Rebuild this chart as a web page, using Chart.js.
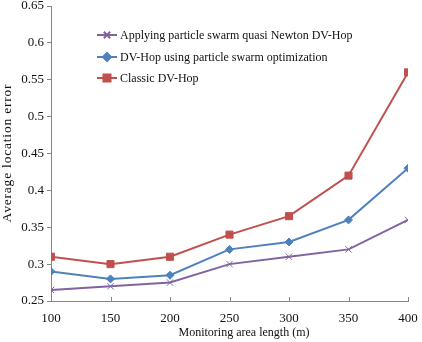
<!DOCTYPE html>
<html>
<head>
<meta charset="utf-8">
<script src="https://cdn.jsdelivr.net/npm/chart.js@4"></script>
<style>
  html, body { margin: 0; padding: 0; background: #fff; }
  #wrap { width: 422px; height: 342px; }
</style>
</head>
<body>
<div id="wrap"><canvas id="chart"></canvas></div>
<script>
const lengths = [100, 150, 200, 250, 300, 350, 400]
const quasiNewton = [0.265, 0.27, 0.275, 0.30, 0.31, 0.32, 0.36]
const pso = [0.29, 0.28, 0.285, 0.32, 0.33, 0.36, 0.43]
const classic = [0.31, 0.30, 0.31, 0.34, 0.365, 0.42, 0.56]
const seriesNames = [
  "Applying particle swarm quasi Newton DV-Hop",
  "DV-Hop using particle swarm optimization",
  "Classic DV-Hop",
]
const xTitle = "Monitoring area length (m)"
const yTitle = "Average location error"

const serif = "'Liberation Serif', 'Times New Roman', serif"
const axisColor = "#868686"
const textColor = "#111"

const toPoints = (values) => values.map((v, i) => ({ x: lengths[i], y: v }))

// legend inside the plot: short line with the marker in the middle
const insideLegend = {
  id: "insideLegend",
  afterDraw(chart) {
    const ctx = chart.ctx
    const x0 = 97
    const rows = [35, 57, 78]
    ctx.save()
    chart.data.datasets.forEach((ds, i) => {
      const y = rows[i]
      ctx.strokeStyle = ds.borderColor
      ctx.lineWidth = 2
      ctx.beginPath()
      ctx.moveTo(x0, y)
      ctx.lineTo(x0 + 20, y)
      ctx.stroke()
      ctx.fillStyle = ds.backgroundColor
      Chart.helpers.drawPoint(ctx, {
        pointStyle: ds.pointStyle,
        radius: ds.pointRadius,
        borderWidth: 1,
      }, x0 + 10, y)
      ctx.fillStyle = textColor
      ctx.font = "12px " + serif
      ctx.textBaseline = "middle"
      ctx.textAlign = "left"
      ctx.fillText(ds.label, x0 + 23, y + 1)
    })
    ctx.restore()
  },
}

// inward x ticks and the two axis titles
const axisExtras = {
  id: "axisExtras",
  afterDraw(chart) {
    const xs = chart.scales.x
    const area = chart.chartArea
    const ctx = chart.ctx
    ctx.save()
    ctx.strokeStyle = axisColor
    ctx.lineWidth = 1
    xs.ticks.forEach((t) => {
      const px = Math.round(xs.getPixelForValue(t.value)) + 0.5
      ctx.beginPath()
      ctx.moveTo(px, area.bottom)
      ctx.lineTo(px, area.bottom - 4)
      ctx.stroke()
    })

    ctx.fillStyle = textColor
    ctx.textAlign = "center"
    ctx.textBaseline = "middle"
    ctx.font = "12px " + serif
    ctx.fillText(xTitle, 244, 333)

    ctx.translate(7, 153)
    ctx.rotate(-Math.PI / 2)
    ctx.font = "13.5px " + serif
    ctx.letterSpacing = "0.8px"
    ctx.fillText(yTitle, 0, 0)
    ctx.restore()
  },
}

function makeSet(label, values, color, style, radius) {
  return {
    label: label,
    data: toPoints(values),
    borderColor: color,
    backgroundColor: color,
    pointBackgroundColor: color,
    pointBorderColor: color,
    borderWidth: 2,
    pointStyle: style,
    pointRadius: radius,
    pointBorderWidth: 1,
    tension: 0,
  }
}

new Chart(document.getElementById("chart"), {
  type: "line",
  data: {
    datasets: [
      makeSet(seriesNames[0], quasiNewton, "#8064A2", "crossRot", 4.5),
      makeSet(seriesNames[1], pso, "#4F81BD", "rectRot", 4),
      makeSet(seriesNames[2], classic, "#C0504D", "rect", 5),
    ],
  },
  options: {
    responsive: true,
    maintainAspectRatio: false,
    animation: false,
    layout: { padding: { top: 3, right: 14, left: 0, bottom: 0 } },
    plugins: {
      legend: { display: false },
      tooltip: { enabled: false },
    },
    scales: {
      x: {
        type: "linear",
        min: 100,
        max: 400,
        ticks: {
          stepSize: 50,
          color: textColor,
          font: { family: serif, size: 13 },
          padding: 10,
          maxRotation: 0,
        },
        grid: { display: false, drawTicks: false },
        border: { color: axisColor, width: 1 },
        afterFit(scale) {
          scale.height = 41
          scale.paddingLeft = 0
          scale.paddingRight = 0
        },
      },
      y: {
        min: 0.25,
        max: 0.65,
        ticks: {
          stepSize: 0.05,
          color: textColor,
          font: { family: serif, size: 13 },
          padding: 3,
          callback: (v) => String(Number(v.toFixed(2))),
        },
        grid: { drawOnChartArea: false, tickLength: 4, color: axisColor },
        border: { color: axisColor, width: 1 },
        afterFit(scale) {
          scale.width = 51
          scale.paddingTop = 0
          scale.paddingBottom = 0
        },
      },
    },
  },
  plugins: [insideLegend, axisExtras],
})
</script>
</body>
</html>
